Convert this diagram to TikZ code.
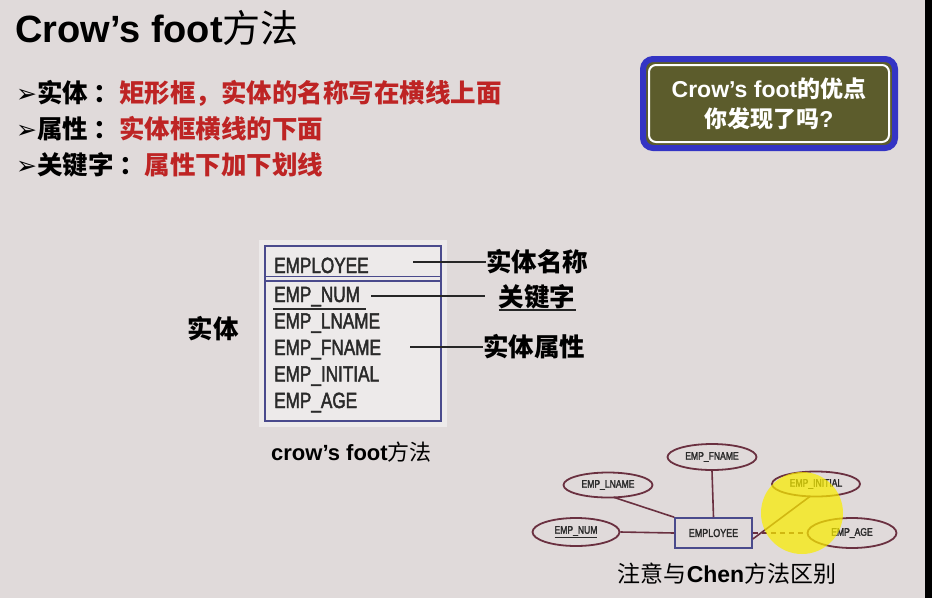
\documentclass[tikz,border=0pt]{standalone}
\usepackage{fontspec}
\setmainfont{Liberation Sans}
\newfontfamily\cjk{Noto Sans CJK SC}
\newfontfamily\symfont{DejaVu Sans}
\newfontfamily\narrow[FakeStretch=0.78,FakeBold=2]{Liberation Sans}
\usetikzlibrary{shapes.geometric}
\definecolor{bgcol}{HTML}{E0DADA}
\definecolor{redtxt}{HTML}{BE2424}
\definecolor{boxblue}{HTML}{3434C4}
\definecolor{olivebox}{HTML}{5C5C2C}
\definecolor{tblblue}{HTML}{4A4A8C}
\definecolor{ellcol}{HTML}{6A3040}
\definecolor{fieldtxt}{HTML}{2A2A2A}
\begin{document}
\begin{tikzpicture}[x=1pt,y=-1pt,
  bullet/.style={anchor=base west,inner sep=0pt,font=\fontsize{25.5}{28}\selectfont},
  field/.style={anchor=base west,inner sep=0pt,text=fieldtxt,font=\narrow\fontsize{22}{24}\selectfont},
  callout/.style={anchor=center,inner sep=0pt,font=\cjk\bfseries\fontsize{25.5}{28}\selectfont},
  leader/.style={draw=black!85,line width=1.1pt},
  attr/.style={ellipse,draw=ellcol,line width=1.8pt,inner sep=0pt,text=fieldtxt,
    font=\narrow\fontsize{11}{12}\selectfont},
  link/.style={draw=ellcol,line width=1.6pt}]
\useasboundingbox (0,0) rectangle (932,598);
\fill[bgcol] (0,0) rectangle (932,598);
\fill[black] (925,0) rectangle (932,598);

% title
\node[anchor=base west,inner sep=0pt] (title) at (15,42)
  {\fontsize{38}{40}\selectfont\bfseries Crow’s foot{\cjk\mdseries 方法}};

% bullet list
\node[bullet] (b1) at (16,102.5)
  {{\symfont\fontsize{25}{26}\selectfont ➢}{\cjk\bfseries 实体 ：}{\cjk\bfseries\color{redtxt}矩形框，实体的名称写在横线上面}};
\node[bullet] (b2) at (16,138)
  {{\symfont\fontsize{25}{26}\selectfont ➢}{\cjk\bfseries 属性 ：}{\cjk\bfseries\color{redtxt}实体框横线的下面}};
\node[bullet] (b3) at (16,174)
  {{\symfont\fontsize{25}{26}\selectfont ➢}{\cjk\bfseries 关键字 ：}{\cjk\bfseries\color{redtxt}属性下加下划线}};

% question box
\fill[olivebox,rounded corners=10pt] (643,59) rectangle (895,148);
\draw[boxblue,line width=6pt,rounded corners=10pt] (643,59) rectangle (895,148);
\draw[white,line width=2pt,rounded corners=7pt] (649,65) rectangle (889,142);
\node[anchor=base,inner sep=0pt,text=white,font=\fontsize{23}{25}\selectfont\bfseries] (q1) at (769,97)
  {Crow’s foot{\cjk 的优点}};
\node[anchor=base,inner sep=0pt,text=white,font=\fontsize{23}{25}\selectfont\bfseries] (q2) at (769,127)
  {{\cjk 你发现了吗}?};

% crow's foot entity box
\fill[white,opacity=0.45] (259,240) rectangle (447,427);
\draw[tblblue,line width=2.6pt] (265,246) rectangle (441,421);
\draw[tblblue,line width=1.6pt] (265,276.5) -- (441,276.5);
\draw[tblblue,line width=1.6pt] (265,281) -- (441,281);
\node[field] (ename) at (274,273) {EMPLOYEE};
\node[field] (fnum) at (274,302) {EMP\_NUM};
\node[field] (flname) at (274,328.5) {EMP\_LNAME};
\node[field] (ffname) at (274,355) {EMP\_FNAME};
\node[field] (finit) at (274,381.5) {EMP\_INITIAL};
\node[field] (fage) at (274,408) {EMP\_AGE};
\draw[fieldtxt,line width=2pt] (273,309) -- (366,309);

% callouts
\node[callout] (lname) at (537,262) {实体名称};
\node[callout] (lkey) at (537,297) {关键字};
\draw[black!85,line width=1.4pt] (499,310) -- (576,310);
\node[callout] (lattr) at (534,347) {实体属性};
\node[callout] (lent) at (213,329) {实体};
\coordinate (p1) at (413,262);
\coordinate (p2) at (371,296);
\coordinate (k2) at (485,296);
\coordinate (p3) at (410,347);
\draw[leader] (p1) -- (lname.west);
\draw[leader] (p2) -- (k2);
\draw[leader] (p3) -- (lattr.west);

\node[anchor=base west,inner sep=0pt,font=\fontsize{22}{24}\selectfont\bfseries] (cap1) at (271,460)
  {crow’s foot{\cjk\mdseries 方法}};

% Chen notation
\node[draw=tblblue,line width=1.6pt,minimum width=77pt,minimum height=30pt,inner sep=0pt,
  text=fieldtxt,font=\narrow\fontsize{11.5}{12}\selectfont] (emp) at (713.5,533) {EMPLOYEE};
\node[attr,minimum width=89pt,minimum height=26pt] (afname) at (712,457) {EMP\_FNAME};
\node[attr,minimum width=89pt,minimum height=25pt] (alname) at (608,485) {EMP\_LNAME};
\node[attr,minimum width=88pt,minimum height=25pt] (ainit) at (816,484) {EMP\_INITIAL};
\node[attr,minimum width=87pt,minimum height=28pt] (anum) at (576,532) {\underline{EMP\_NUM}};
\node[attr,minimum width=89pt,minimum height=30pt] (aage) at (852,533) {EMP\_AGE};
\draw[link] (afname.south) -- (emp.north);
\draw[link] (alname.south) ++(6,-1) -- (emp.north west);
\draw[link] (ainit.south) ++(-6,-1) -- ([yshift=-6pt]emp.east);
\draw[link] (anum.east) -- (emp.west);
\draw[link,dashed,dash pattern=on 5pt off 4pt] (emp.east) -- (aage.west);

% pointer highlight
\fill[yellow!95!olive,opacity=0.72] (802,513) circle (41);

\node[anchor=base,inner sep=0pt,font=\fontsize{23}{25}\selectfont\bfseries] (cap2) at (727,582)
  {{\cjk\mdseries 注意与}Chen{\cjk\mdseries 方法区别}};
\end{tikzpicture}
\end{document}
